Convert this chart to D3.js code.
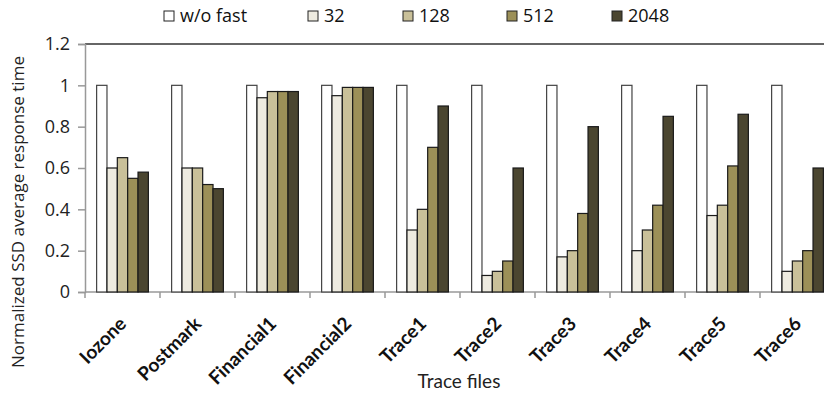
<!DOCTYPE html>
<html>
<head>
<meta charset="utf-8">
<script src="https://cdn.jsdelivr.net/npm/d3@7"></script>
<style>
  body { margin: 0; background: #fff; }
  svg { display: block; }
</style>
</head>
<body>
<div id="chart"></div>
<script>
const traces = ["Iozone", "Postmark", "Financial1", "Financial2", "Trace1", "Trace2", "Trace3", "Trace4", "Trace5", "Trace6"];
const seriesNames = ["w/o fast", "32", "128", "512", "2048"];
const woFast = [1, 1, 1, 1, 1, 1, 1, 1, 1, 1];
const s32 = [0.60, 0.60, 0.94, 0.95, 0.30, 0.08, 0.17, 0.20, 0.37, 0.10];
const s128 = [0.65, 0.60, 0.97, 0.99, 0.40, 0.10, 0.20, 0.30, 0.42, 0.15];
const s512 = [0.55, 0.52, 0.97, 0.99, 0.70, 0.15, 0.38, 0.42, 0.61, 0.20];
const s2048 = [0.58, 0.50, 0.97, 0.99, 0.90, 0.60, 0.80, 0.85, 0.86, 0.60];
const yTicks = [0, 0.2, 0.4, 0.6, 0.8, 1, 1.2];
const colors = ["#ffffff", "#eeebe0", "#c9c099", "#9c9058", "#4b4630"];

function main() {
    const W = 824, H = 396;
    const svg = d3.select("#chart").append("svg")
        .attr("width", W)
        .attr("height", H)
        .style("font-family", "'Open Sans', sans-serif");

    const left = 85, top = 44, bottom = 292;
    const bandW = 75;

    const values = [woFast, s32, s128, s512, s2048];
    const data = [];
    traces.forEach((t, i) => {
        seriesNames.forEach((s, j) => {
            data.push({ trace: t, series: s, idx: j, value: values[j][i] });
        });
    });

    const x = d3.scaleBand()
        .domain(traces)
        .range([left, left + bandW * traces.length])
        .paddingInner(0.31)
        .paddingOuter(0.155);

    const xs = d3.scaleBand()
        .domain(seriesNames)
        .range([0, x.bandwidth()]);

    const y = d3.scaleLinear()
        .domain([0, 1.2])
        .range([bottom, top]);

    // top line
    svg.append("line")
        .attr("x1", left).attr("x2", W)
        .attr("y1", y(1.2)).attr("y2", y(1.2))
        .attr("stroke", "#333")
        .attr("stroke-width", 1.5);

    // y axis
    const yAxis = svg.append("g")
        .attr("transform", `translate(${left},0)`)
        .call(d3.axisLeft(y).tickValues(yTicks).tickSize(7).tickPadding(8)
            .tickFormat(d => d === 0 || d === 1 ? d3.format("d")(d) : d3.format(".1f")(d)));
    yAxis.select(".domain").attr("stroke", "#999").attr("stroke-width", 1.5);
    yAxis.selectAll(".tick line").attr("stroke", "#999").attr("stroke-width", 1.5);
    yAxis.selectAll(".tick text").attr("font-size", 18).attr("fill", "#222")
        .attr("font-family", "'Open Sans', sans-serif");

    // x axis with ticks at band boundaries
    const xAxis = svg.append("g")
        .attr("transform", `translate(0,${bottom})`);
    xAxis.append("line")
        .attr("x1", left).attr("x2", W)
        .attr("stroke", "#999").attr("stroke-width", 1.5);
    xAxis.selectAll(".bt")
        .data(d3.range(traces.length + 1))
        .join("line")
        .attr("class", "bt")
        .attr("x1", i => left + i * bandW)
        .attr("x2", i => left + i * bandW)
        .attr("y1", 0).attr("y2", 6)
        .attr("stroke", "#999").attr("stroke-width", 1.5);

    xAxis.selectAll(".lbl")
        .data(traces)
        .join("text")
        .attr("class", "lbl")
        .attr("transform", d => `translate(${x(d) + x.bandwidth() / 2 + 5},${33}) rotate(-45)`)
        .attr("text-anchor", "end")
        .attr("font-size", 19)
        .attr("font-weight", "bold")
        .attr("font-family", "Lato, sans-serif")
        .attr("fill", "#111")
        .text(d => d);

    // axis titles
    svg.append("g").selectAll("rect")
        .data(data)
        .join("rect")
        .attr("x", d => x(d.trace) + xs(d.series))
        .attr("y", d => y(d.value))
        .attr("width", xs.bandwidth())
        .attr("height", d => y(0) - y(d.value))
        .attr("fill", d => colors[d.idx])
        .attr("stroke", d => d.idx === 0 ? "#444" : "#1a1a1a")
        .attr("stroke-width", 1.2);

    svg.append("text")
        .attr("transform", `translate(24,212) rotate(-90)`)
        .attr("text-anchor", "middle")
        .attr("font-size", 17)
        .attr("fill", "#222")
        .text("Normalized SSD average response time");

    svg.append("text")
        .attr("x", 459)
        .attr("y", 388)
        .attr("text-anchor", "middle")
        .attr("font-size", 19)
        .attr("font-family", "Lato, sans-serif")
        .attr("fill", "#222")
        .text("Trace files");

    // legend
    const legendX = [164, 308, 403, 507, 612];
    const legend = svg.append("g").selectAll("g")
        .data(seriesNames)
        .join("g")
        .attr("transform", (d, i) => `translate(${legendX[i]},16)`);
    legend.append("rect")
        .attr("x", 0).attr("y", -5)
        .attr("width", 10).attr("height", 10)
        .attr("fill", (d, i) => colors[i])
        .attr("stroke", "#222")
        .attr("stroke-width", 1);
    legend.append("text")
        .attr("x", 16)
        .attr("y", 0)
        .attr("dy", "0.35em")
        .attr("font-size", 18)
        .attr("fill", "#111")
        .text(d => d);
}
main();
</script>
</body>
</html>
